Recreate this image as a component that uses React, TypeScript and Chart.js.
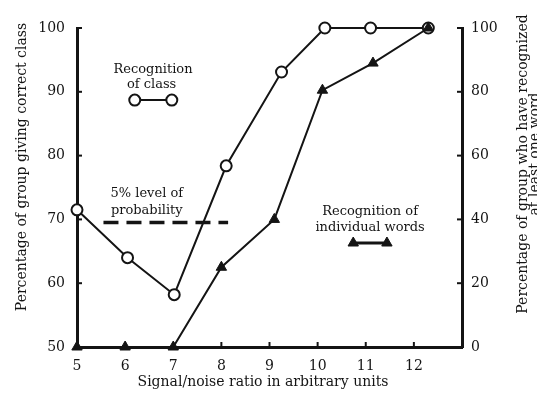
import React, { useEffect, useRef } from "react";
import { Chart, registerables } from "chart.js";

Chart.register(...registerables);

// ---- data ----
const snrClass = [5, 6.05, 7.02, 8.1, 9.25, 10.15, 11.1, 12.3];
const pctClass = [71.5, 64, 58.2, 78.4, 93.1, 100, 100, 100];
const snrWords = [5, 6, 7, 8, 9.1, 10.1, 11.15, 12.3];
const pctWords = [0, 0, 0, 25, 40, 80.5, 89, 100];
const xTicks = [5, 6, 7, 8, 9, 10, 11, 12];
const leftTicks = [50, 60, 70, 80, 90, 100];
const rightTicks = [0, 20, 40, 60, 80, 100];
const chanceLevel = 69.5;
const chanceFrom = 5.55;
const chanceTo = 8.14;

// annotation anchors (in axis units of x / left y)
const classKeyX = [6.2, 6.97];
const classKeyY = 88.7;
const wordsKeyX = [10.74, 11.44];
const wordsKeyY = 66.3;
const notes = [
  { text: "Recognition", x: 6.58, y: 93.4 },
  { text: "of class", x: 6.55, y: 91.1 },
  { text: "5% level of", x: 6.45, y: 74.1 },
  { text: "probability", x: 6.45, y: 71.3 },
  { text: "Recognition of", x: 11.09, y: 71.2 },
  { text: "individual words", x: 11.09, y: 68.7 },
];

const xTitle = "Signal/noise ratio in arbitrary units";
const leftTitle = "Percentage of group giving correct class";
const rightTitle = ["Percentage of group who have recognized", "at least one word"];

const INK = "#141414";
const SERIF = '"DejaVu Serif", "Liberation Serif", serif';

const pts = (xs: number[], ys: number[]) => xs.map((x, i) => ({ x, y: ys[i] }));

const decor = {
  id: "decor",
  afterDraw(chart: any) {
    const { ctx, scales, chartArea } = chart;
    const sx = scales.x, sy = scales.y, sy1 = scales.y1;
    ctx.save();
    ctx.strokeStyle = INK;
    ctx.fillStyle = INK;
    // inward tick marks
    ctx.lineWidth = 2;
    xTicks.forEach((v) => {
      const px = sx.getPixelForValue(v);
      ctx.beginPath();
      ctx.moveTo(px, chartArea.bottom);
      ctx.lineTo(px, chartArea.bottom - 5);
      ctx.stroke();
    });
    leftTicks.forEach((v) => {
      const py = sy.getPixelForValue(v);
      ctx.beginPath();
      ctx.moveTo(chartArea.left, py);
      ctx.lineTo(chartArea.left + 5, py);
      ctx.stroke();
    });
    rightTicks.forEach((v) => {
      const py = sy1.getPixelForValue(v);
      ctx.beginPath();
      ctx.moveTo(chartArea.right, py);
      ctx.lineTo(chartArea.right - 5, py);
      ctx.stroke();
    });
    // annotation texts
    ctx.font = `13px ${SERIF}`;
    ctx.textAlign = "center";
    ctx.textBaseline = "middle";
    notes.forEach((n) => {
      ctx.fillText(n.text, sx.getPixelForValue(n.x), sy.getPixelForValue(n.y));
    });
    // axis titles
    ctx.font = `14px ${SERIF}`;
    ctx.fillText(xTitle, 263, 382);
    ctx.save();
    ctx.translate(22, 167);
    ctx.rotate(-Math.PI / 2);
    ctx.fillText(leftTitle, 0, 0);
    ctx.restore();
    ctx.save();
    ctx.translate(523, 164);
    ctx.rotate(-Math.PI / 2);
    ctx.fillText(rightTitle[0], 0, 0);
    ctx.restore();
    ctx.save();
    ctx.translate(535, 154);
    ctx.rotate(-Math.PI / 2);
    ctx.fillText(rightTitle[1], 0, 0);
    ctx.restore();
    ctx.restore();
  },
};

export default function App() {
  const ref = useRef<HTMLCanvasElement>(null);
  useEffect(() => {
    const tickFont = { family: SERIF, size: 14 };
    const chart = new Chart(ref.current as HTMLCanvasElement, {
      type: "line",
      data: {
        datasets: [
          {
            data: pts([chanceFrom, chanceTo], [chanceLevel, chanceLevel]),
            yAxisID: "y",
            borderColor: INK,
            borderWidth: 3.5,
            borderDash: [15, 8],
            pointRadius: 0,
            clip: false,
          } as any,
          {
            data: pts(snrWords, pctWords),
            yAxisID: "y1",
            borderColor: INK,
            borderWidth: 2,
            pointStyle: "triangle",
            pointRadius: 6,
            pointBackgroundColor: INK,
            pointBorderColor: INK,
            pointBorderWidth: 1,
            clip: false,
          },
          {
            data: pts(snrClass, pctClass),
            yAxisID: "y",
            borderColor: INK,
            borderWidth: 2,
            pointStyle: "circle",
            pointRadius: 5.5,
            pointBackgroundColor: "#ffffff",
            pointBorderColor: INK,
            pointBorderWidth: 2,
            clip: false,
          },
          {
            data: pts(classKeyX, [classKeyY, classKeyY]),
            yAxisID: "y",
            borderColor: INK,
            borderWidth: 2,
            pointStyle: "circle",
            pointRadius: 5.5,
            pointBackgroundColor: "#ffffff",
            pointBorderColor: INK,
            pointBorderWidth: 2,
            clip: false,
          },
          {
            data: pts(wordsKeyX, [wordsKeyY, wordsKeyY]),
            yAxisID: "y",
            borderColor: INK,
            borderWidth: 3,
            pointStyle: "triangle",
            pointRadius: 6,
            pointBackgroundColor: INK,
            pointBorderColor: INK,
            pointBorderWidth: 1,
            clip: false,
          },
        ],
      },
      options: {
        animation: false,
        responsive: true,
        maintainAspectRatio: false,
        layout: { padding: { top: 28, left: 0, right: 0, bottom: 0 } },
        plugins: { legend: { display: false }, tooltip: { enabled: false } },
        scales: {
          x: {
            type: "linear",
            min: 5,
            max: 13,
            afterBuildTicks: (s: any) => {
              s.ticks = xTicks.map((v) => ({ value: v }));
            },
            afterFit: (s: any) => {
              s.height = 52;
            },
            grid: { display: false, drawTicks: false },
            border: { display: true, color: INK, width: 3 },
            ticks: { font: tickFont, color: INK, padding: 11 },
          },
          y: {
            type: "linear",
            position: "left",
            min: 50,
            max: 100,
            afterBuildTicks: (s: any) => {
              s.ticks = leftTicks.map((v) => ({ value: v }));
            },
            afterFit: (s: any) => {
              s.width = 77;
            },
            grid: { display: false, drawTicks: false },
            border: { display: true, color: INK, width: 3 },
            ticks: { font: tickFont, color: INK, padding: 12 },
          },
          y1: {
            type: "linear",
            position: "right",
            min: 0,
            max: 100,
            afterBuildTicks: (s: any) => {
              s.ticks = rightTicks.map((v) => ({ value: v }));
            },
            afterFit: (s: any) => {
              s.width = 75;
            },
            grid: { display: false, drawTicks: false },
            border: { display: true, color: INK, width: 3 },
            ticks: { font: tickFont, color: INK, padding: 9 },
          },
        },
      } as any,
      plugins: [decor],
    });
    return () => chart.destroy();
  }, []);
  return (
    <div style={{ position: "fixed", left: 0, top: 0, width: 537, height: 399, background: "#fff" }}>
      <canvas ref={ref} />
    </div>
  );
}
